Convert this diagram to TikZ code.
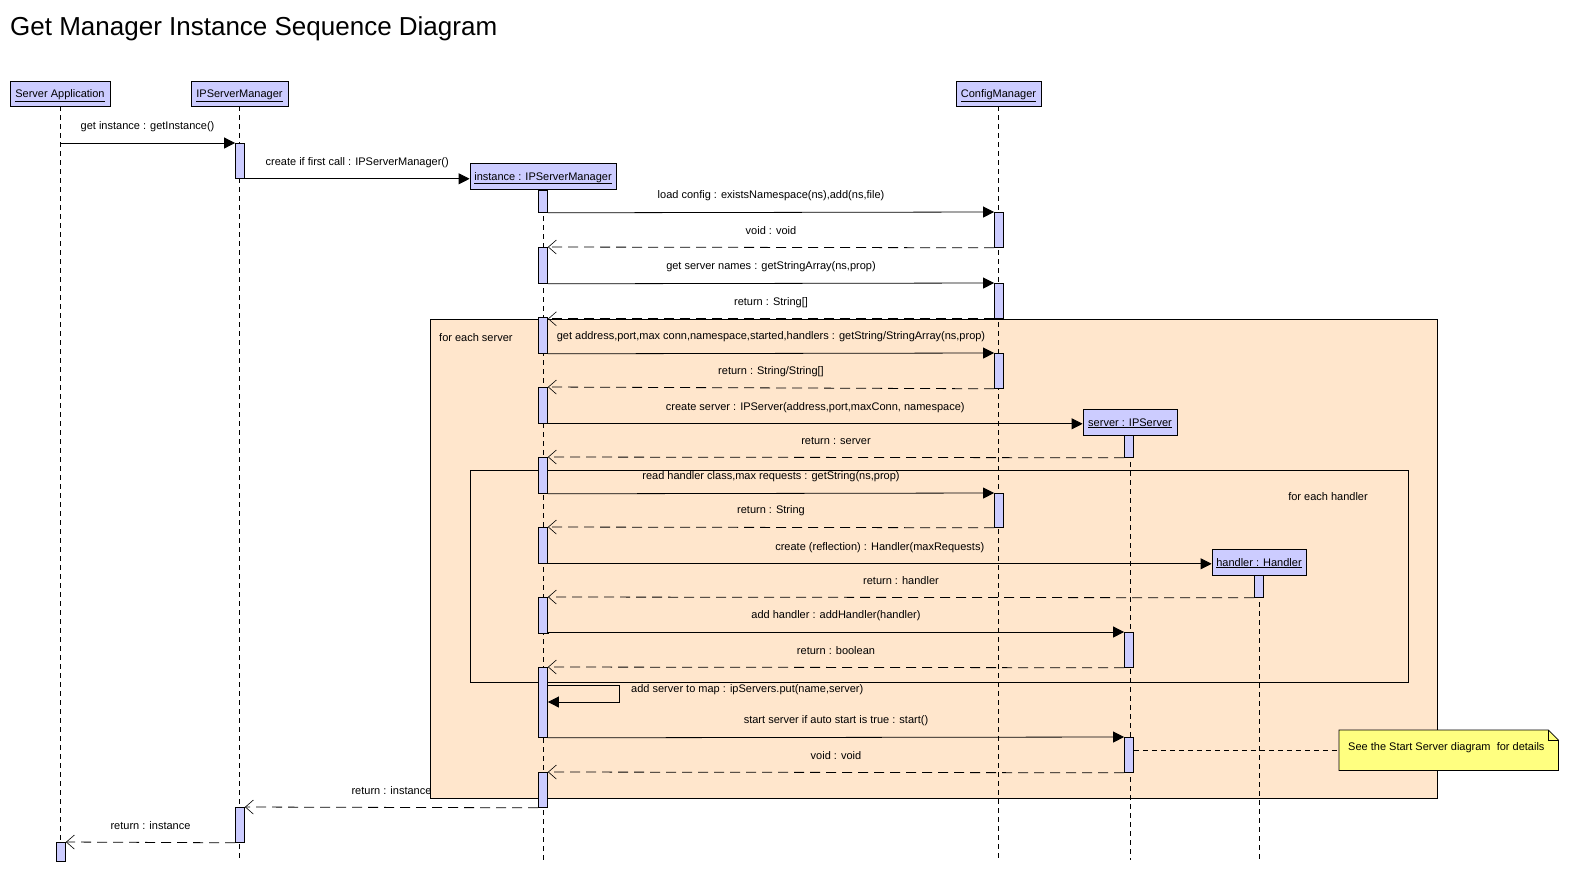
\documentclass[tikz,border=0pt]{standalone}
\usepackage{fontspec}
\setmainfont{Liberation Sans}
\usetikzlibrary{arrows.meta,calc}
\definecolor{lav}{HTML}{CCCCFF}
\definecolor{peach}{HTML}{FFE6CC}
\definecolor{noteyellow}{HTML}{FFFF80}
\newcommand\mkact[4]{\node[act, minimum height={(#4-#3)*1pt}] (#1) at (#2,#3) {};}
\begin{document}
\begin{tikzpicture}[x=1pt,y=-1pt,
  every node/.style={font=\fontsize{11}{13}\selectfont},
  hdr/.style={draw, fill=lav, line width=0.8pt, minimum height=25pt, inner sep=0pt, text height=8pt, text depth=0pt},
  act/.style={draw, fill=lav, line width=0.8pt, minimum width=9pt, inner sep=0pt, anchor=north},
  life/.style={dash pattern=on 5pt off 4pt, line width=0.8pt},
  call/.style={line width=0.8pt, -{Triangle[length=11pt,width=11pt]}},
  ret/.style={line width=0.8pt, dash pattern=on 10pt off 6pt, -{Straight Barb[length=8pt,width=14pt,line width=0.6pt]}},
  lbl/.style={midway, yshift=16.5pt, inner sep=0pt},
  frag/.style={draw, line width=0.8pt, inner sep=0pt, anchor=north west},
]
\useasboundingbox (0,0) rectangle (1570,873);
\fill[white] (0,0) rectangle (1570,873);

% title
\node[anchor=west, inner sep=0pt, font=\fontsize{26}{30}\selectfont] (title) at (10,29) {Get Manager Instance Sequence Diagram};

% fragments
\node[frag, fill=peach, minimum width=1007pt, minimum height=479pt] (fserver) at (430,319) {};
\node[frag, minimum width=938pt, minimum height=212pt] (fhandler) at (470,470) {};
\node[anchor=west, inner sep=0pt] (fserverlbl) at (439,338) {for each server};
\node[inner sep=0pt] (fhandlerlbl) at (1328,497) {for each handler};

% headers
\node[hdr, minimum width=100pt] (sa) at (60,93.5) {\underline{Server Application}};
\node[hdr, minimum width=97pt] (ipsm) at (239.5,93.5) {\underline{IPServerManager}};
\node[hdr, minimum width=85pt] (cfg) at (998.5,93.5) {\underline{ConfigManager}};
\node[hdr, minimum width=146pt, minimum height=26pt] (inst) at (543,176) {\underline{instance : IPServerManager}};
\node[hdr, minimum width=94pt, minimum height=26pt] (srv) at (1130,422) {\underline{server : IPServer}};
\node[hdr, minimum width=94pt, minimum height=26pt] (hdl) at (1259,562) {\underline{handler : Handler}};

% lifelines
\coordinate (lifeend) at (0,860);
\draw[life] (sa.south) -- (sa.south |- lifeend);
\draw[life] (ipsm.south) -- (ipsm.south |- lifeend);
\draw[life] (cfg.south) -- (cfg.south |- lifeend);
\draw[life] (inst.south) -- (inst.south |- lifeend);
\draw[life] (srv.south) -- (srv.south |- lifeend);
\draw[life] (hdl.south) -- (hdl.south |- lifeend);

% activations
\mkact{A1}{240}{143}{178}
\mkact{A2}{240}{807}{842}
\mkact{S1}{61}{842}{861}
\mkact{I1}{543}{190}{212}
\mkact{I2}{543}{247}{283}
\mkact{I3}{543}{317}{353}
\mkact{I4}{543}{387}{423}
\mkact{I5}{543}{457}{493}
\mkact{I6}{543}{527}{563}
\mkact{I7}{543}{597}{633}
\mkact{I8}{543}{667}{737}
\mkact{I9}{543}{772}{807}
\mkact{C1}{999}{212}{247}
\mkact{C2}{999}{283}{318}
\mkact{C3}{999}{353}{388}
\mkact{C4}{999}{493}{527}
\mkact{V1}{1129}{435}{457}
\mkact{V2}{1129}{632}{667}
\mkact{V3}{1129}{737}{772}
\mkact{H1}{1259}{575}{597}

% messages
\draw[call] (A1.north west -| sa.south) -- (A1.north west) node[lbl] {get instance : getInstance()};
\draw[call] (A1.south east) -- (A1.south east -| inst.west) node[lbl] {create if first call : IPServerManager()};
\draw[call] (I1.south east) -- (C1.north west) node[lbl] {load config : existsNamespace(ns),add(ns,file)};
\draw[ret] (C1.south west) -- (I2.north east) node[lbl] {void : void};
\draw[call] (I2.south east) -- (C2.north west) node[lbl] {get server names : getStringArray(ns,prop)};
\draw[ret] (C2.south west) -- (C2.south west -| I3.north east) node[lbl] {return : String[]};
\draw[call] (I3.south east) -- (C3.north west) node[lbl] {get address,port,max conn,namespace,started,handlers : getString/StringArray(ns,prop)};
\draw[ret] (C3.south west) -- (I4.north east) node[lbl] {return : String/String[]};
\draw[call] (I4.south east) -- (I4.south east -| srv.west) node[lbl] {create server : IPServer(address,port,maxConn, namespace)};
\draw[ret] (V1.south west) -- (I5.north east) node[lbl] {return : server};
\draw[call] (I5.south east) -- (C4.north west) node[lbl] {read handler class,max requests : getString(ns,prop)};
\draw[ret] (C4.south west) -- (I6.north east) node[lbl] {return : String};
\draw[call] (I6.south east) -- (I6.south east -| hdl.west) node[lbl] {create (reflection) : Handler(maxRequests)};
\draw[ret] (H1.south west) -- (I7.north east) node[lbl] {return : handler};
\draw[call] (I7.south east) -- (I7.south east |- V2.north west) -- (V2.north west) node[lbl] {add handler : addHandler(handler)};
\draw[ret] (V2.south west) -- (I8.north east) node[lbl] {return : boolean};
\draw[call] ($(I8.north east)+(0,18)$) -- ++(71,0) -- ++(0,17) -- ($(I8.north east)+(0,35)$);
\node[anchor=west, inner sep=0pt] (selflbl) at (631,690) {add server to map : ipServers.put(name,server)};
\draw[call] (I8.south east) -- (V3.north west) node[lbl] {start server if auto start is true : start()};
\draw[ret] (V3.south west) -- (I9.north east) node[lbl] {void : void};
\draw[ret] (I9.south west) -- (A2.north east) node[lbl] {return : instance};
\draw[ret] (A2.south west) -- (S1.north east) node[lbl] {return : instance};

% note
\node[minimum width=219pt, minimum height=40pt, inner sep=0pt, anchor=north west] (note) at (1339,730) {};
\filldraw[fill=noteyellow, line width=0.8pt] (note.north west) -- ($(note.north east)+(-10,0)$) -- ($(note.north east)+(0,10)$) -- (note.south east) -- (note.south west) -- cycle;
\draw[line width=0.6pt] ($(note.north east)+(-10,0)$) -- ($(note.north east)+(-10,10)$) -- ($(note.north east)+(0,10)$);
\node[anchor=west, inner sep=0pt] (notetxt) at (1348,748) {See the Start Server diagram\ \ for details};
\draw[life] (note.west -| V3.east) -- (note.west);
\end{tikzpicture}
\end{document}
